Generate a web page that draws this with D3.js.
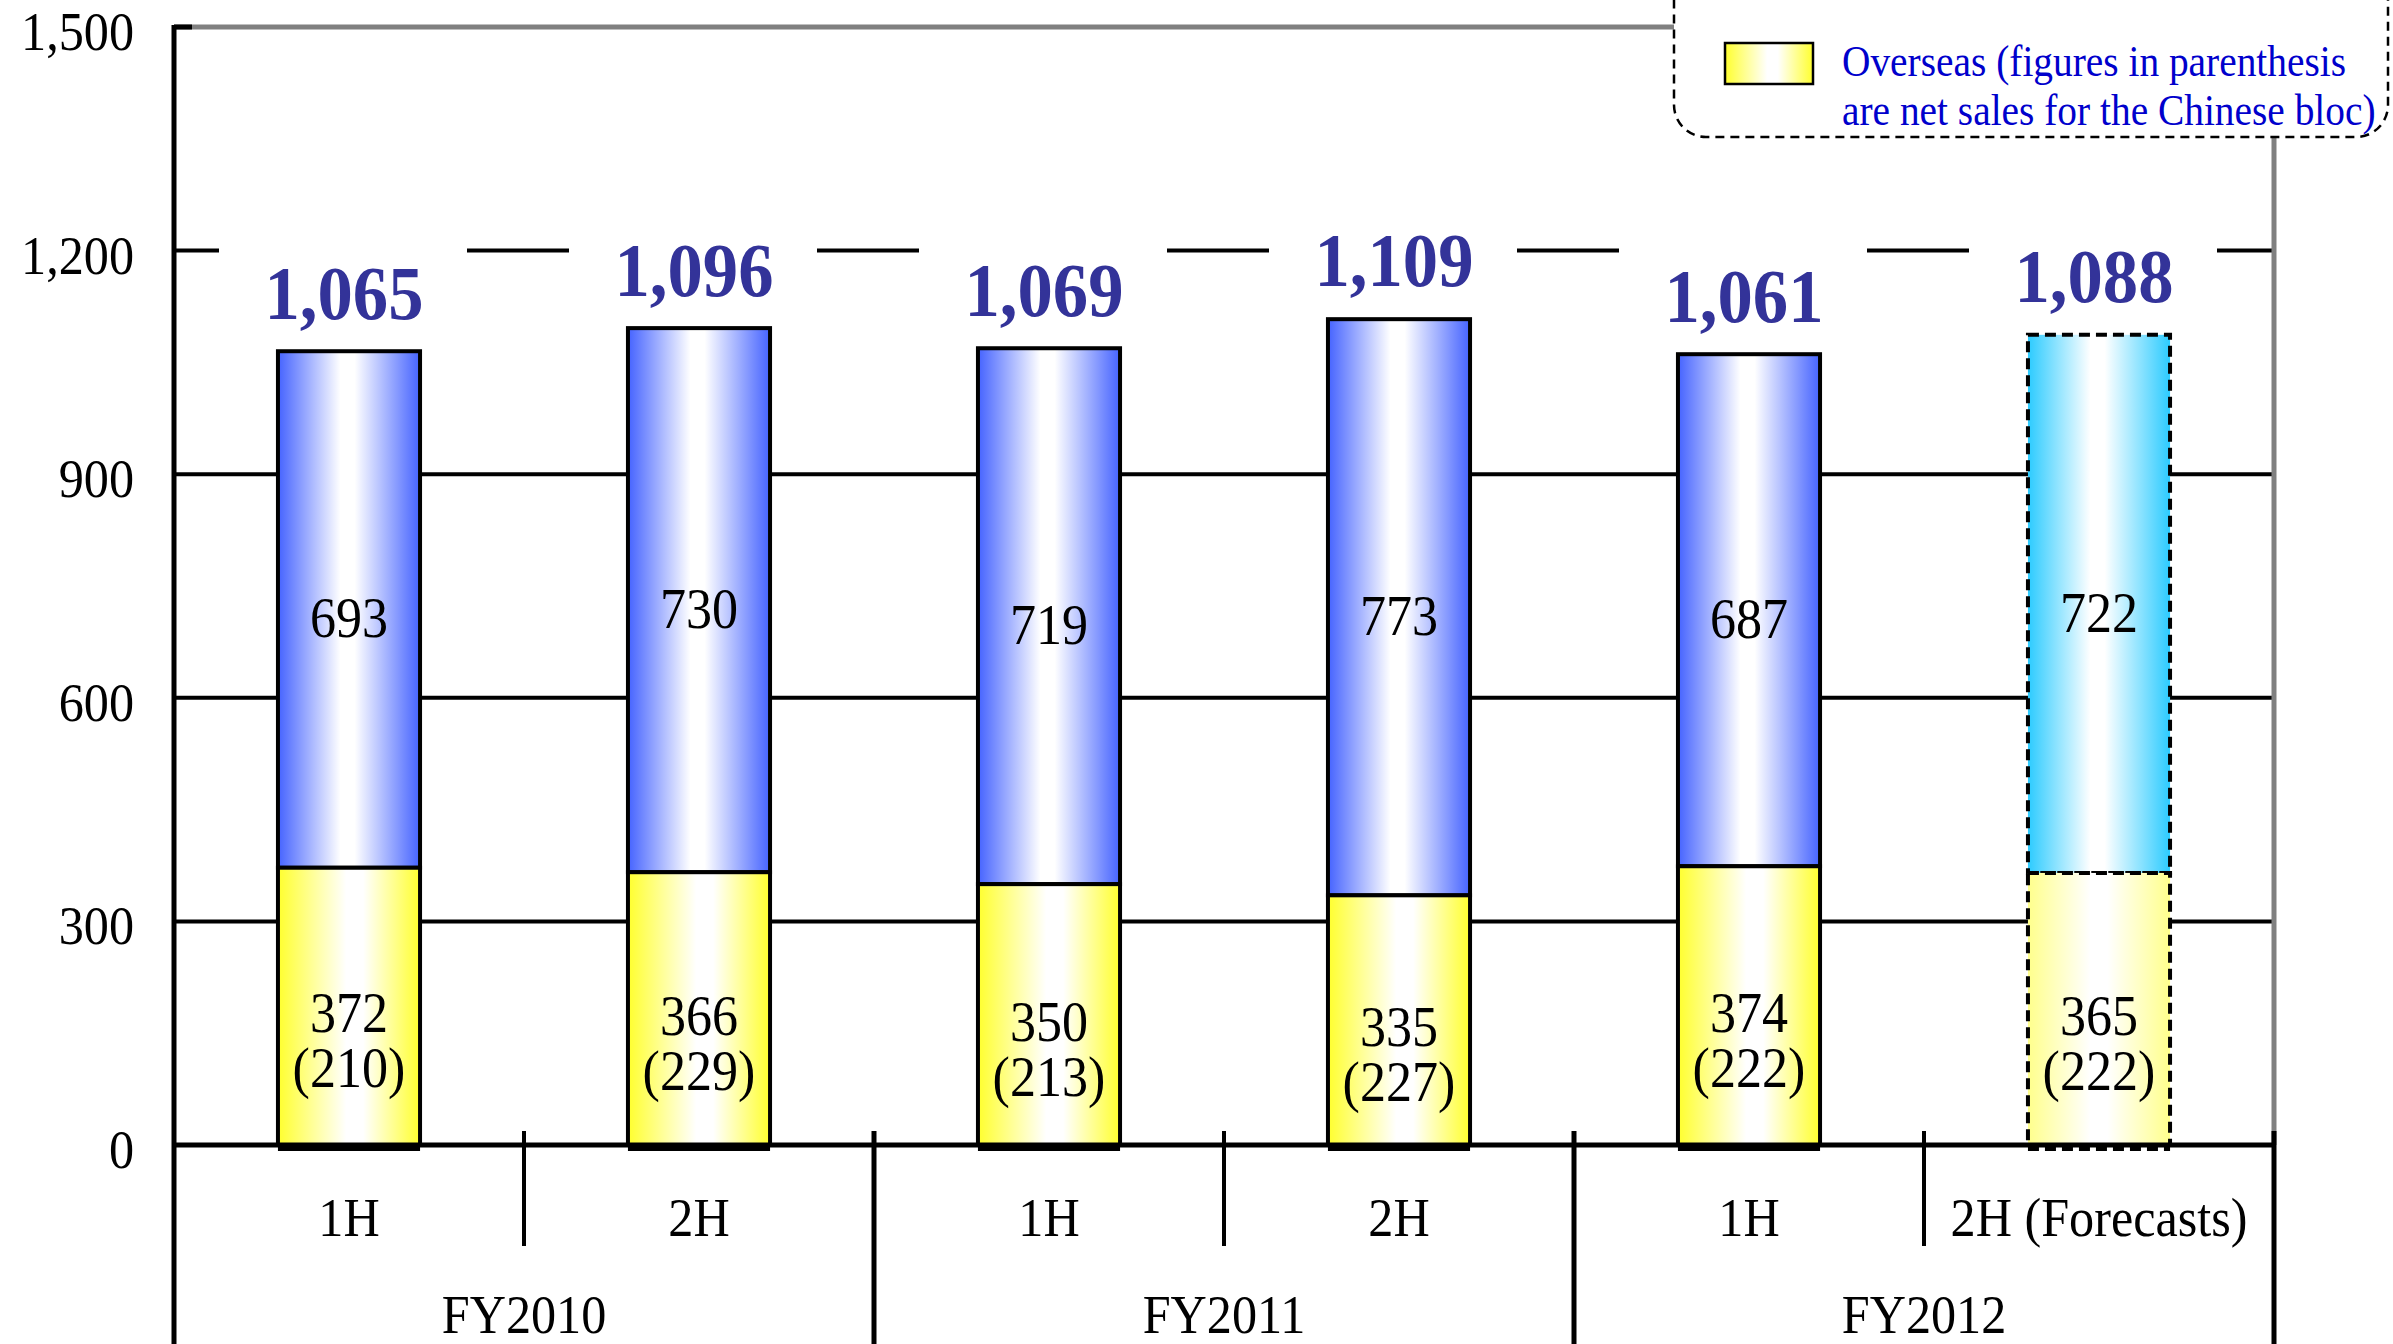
<!DOCTYPE html>
<html><head><meta charset="utf-8">
<script src="https://cdn.jsdelivr.net/npm/d3@7"></script>
<style>html,body{margin:0;padding:0;background:#fff;overflow:hidden}</style>
</head><body>
<svg id="c" width="2393" height="1344"></svg>
<script>
// ---- data ----
const halves = ["1H", "2H", "1H", "2H", "1H", "2H (Forecasts)"];
const years = ["FY2010", "FY2011", "FY2012"];
const overseas = [372, 366, 350, 335, 374, 365];
const china = [210, 229, 213, 227, 222, 222];
const domestic = [693, 730, 719, 773, 687, 722];
const totals = ["1,065", "1,096", "1,069", "1,109", "1,061", "1,088"];
const totalValues = [1065, 1096, 1069, 1109, 1061, 1088];
const forecast = [false, false, false, false, false, true];
const yTicks = [0, 300, 600, 900, 1200, 1500];
const legendLines = ["Overseas (figures in parenthesis", "are net sales for the Chinese bloc)"];

const svg = d3.select("#c");
const FONT = "'Liberation Serif','Times New Roman',serif";
const SX = 0.93;
const left = 174, right = 2274;

const y = d3.scaleLinear().domain([0, 1500]).range([1145, 27]);
const x = d3.scaleBand().domain(d3.range(halves.length)).range([left, right])
  .paddingInner(0.594).paddingOuter(0.297);
const slot = d3.scaleBand().domain(d3.range(halves.length)).range([left, right]);
const yearBand = d3.scaleBand().domain(years).range([left, right]);

// gradients
const defs = svg.append("defs");
function grad(id, edge, mid, a, b) {
  const g = defs.append("linearGradient").attr("id", id).attr("x1", 0).attr("x2", 1).attr("y1", 0).attr("y2", 0);
  g.append("stop").attr("offset", 0).attr("stop-color", edge);
  g.append("stop").attr("offset", a).attr("stop-color", mid);
  g.append("stop").attr("offset", b).attr("stop-color", mid);
  g.append("stop").attr("offset", 1).attr("stop-color", edge);
}
grad("gBlue", "#4563FF", "#FFFFFF", 0.44, 0.54);
grad("gYel", "#FFFF2E", "#FFFFFF", 0.48, 0.6);
grad("gCyan", "#2CCBFF", "#FFFFFF", 0.44, 0.54);
grad("gYelF", "#FFFF8C", "#FFFFFF", 0.44, 0.56);

function txt(g, tx, ty, s, opts) {
  const t = g.append("text")
    .attr("transform", `translate(${tx},${ty}) scale(${opts.sx || SX},1)`)
    .attr("font-family", FONT)
    .attr("font-size", opts.size)
    .attr("text-anchor", opts.anchor || "middle")
    .attr("fill", opts.fill || "#000");
  if (Array.isArray(s)) {
    s.forEach((line, k) => t.append("tspan").attr("x", 0).attr("dy", k === 0 ? 0 : opts.lh).text(line));
  } else {
    t.text(s);
  }
  if (opts.bold) t.attr("font-weight", "bold");
  return t;
}

// gridlines
svg.append("g").selectAll("line").data(yTicks.filter(v => v > 0 && v < 1500)).join("line")
  .attr("x1", left).attr("x2", right).attr("y1", d => y(d)).attr("y2", d => y(d))
  .attr("stroke", "#000").attr("stroke-width", 4);
// top border (gray)
svg.append("line").attr("x1", left).attr("x2", 1680).attr("y1", y(1500)).attr("y2", y(1500))
  .attr("stroke", "#808080").attr("stroke-width", 5);
svg.append("line").attr("x1", left).attr("x2", 192).attr("y1", y(1500)).attr("y2", y(1500))
  .attr("stroke", "#000").attr("stroke-width", 5);
// right border (gray)
svg.append("line").attr("x1", right).attr("x2", right).attr("y1", 130).attr("y2", y(0))
  .attr("stroke", "#808080").attr("stroke-width", 5);

// white boxes behind total labels
const gBox = svg.append("g");
gBox.selectAll("rect").data(totalValues).join("rect")
  .attr("x", (d, i) => x(i) + x.bandwidth() / 2 - 6 - 124)
  .attr("width", 248)
  .attr("y", d => y(d) - 32 - 88)
  .attr("height", 100)
  .attr("fill", "#fff");

// bars
const gB = svg.append("g");
halves.forEach((h, i) => {
  const x0 = x(i), w = x.bandwidth();
  const top = overseas[i] + domestic[i];
  const dash = forecast[i] ? "11,6" : null;
  gB.append("rect").attr("x", x0).attr("width", w)
    .attr("y", y(top)).attr("height", y(overseas[i]) - y(top))
    .attr("fill", forecast[i] ? "url(#gCyan)" : "url(#gBlue)")
    .attr("stroke", "#000").attr("stroke-width", 4).attr("stroke-dasharray", dash);
  gB.append("rect").attr("x", x0).attr("width", w)
    .attr("y", y(overseas[i])).attr("height", y(0) - y(overseas[i]))
    .attr("fill", forecast[i] ? "url(#gYelF)" : "url(#gYel)")
    .attr("stroke", "#000").attr("stroke-width", 4).attr("stroke-dasharray", dash);
});

// zero axis line and lower framework
svg.append("line").attr("x1", left).attr("x2", right + 2).attr("y1", y(0)).attr("y2", y(0))
  .attr("stroke", "#000").attr("stroke-width", 5);
halves.forEach((h, i) => {
  gB.append("line").attr("x1", x(i)).attr("x2", x(i) + x.bandwidth())
    .attr("y1", y(0) + 3).attr("y2", y(0) + 3)
    .attr("stroke", "#000").attr("stroke-width", 6)
    .attr("stroke-dasharray", forecast[i] ? "11,6" : null);
});
svg.append("line").attr("x1", left).attr("x2", left).attr("y1", y(1500) - 2).attr("y2", 1344)
  .attr("stroke", "#000").attr("stroke-width", 5);
// half dividers
[1, 3, 5].forEach(i => {
  svg.append("line").attr("x1", slot(i)).attr("x2", slot(i)).attr("y1", 1131).attr("y2", 1246)
    .attr("stroke", "#000").attr("stroke-width", 4);
});
// year dividers
years.forEach(yr => {
  const xe = yearBand(yr) + yearBand.bandwidth();
  svg.append("line").attr("x1", xe).attr("x2", xe).attr("y1", 1131).attr("y2", 1344)
    .attr("stroke", "#000").attr("stroke-width", 5);
});

// y tick labels
const gT = svg.append("g");
yTicks.forEach(v => txt(gT, 134, y(v) + 23, d3.format(",")(v), {size: 54, anchor: "end"}));

// value labels (drawn above bars)
const gL = svg.append("g");
halves.forEach((h, i) => {
  const cx = x(i) + x.bandwidth() / 2;
  const top = overseas[i] + domestic[i];
  const midB = (y(overseas[i]) + y(top)) / 2;
  txt(gL, cx, midB + 28, String(domestic[i]), {size: 56});
  const midY = (y(0) + y(overseas[i])) / 2;
  txt(gL, cx, midY + 26, [String(overseas[i]), "(" + china[i] + ")"], {size: 56, lh: 55});
  txt(gL, cx - 5, y(totalValues[i]) - 32, totals[i], {size: 76, bold: true, fill: "#333399"});
});

// category labels
halves.forEach((h, i) => txt(svg, slot(i) + slot.bandwidth() / 2, 1236, h, {size: 54}));
years.forEach(yr => txt(svg, yearBand(yr) + yearBand.bandwidth() / 2, 1333, yr, {size: 54}));

// legend
const gLeg = svg.append("g");
gLeg.append("rect").attr("x", 1674).attr("y", -60).attr("width", 714).attr("height", 197)
  .attr("rx", 32).attr("fill", "#fff").attr("stroke", "#000").attr("stroke-width", 2.5)
  .attr("stroke-dasharray", "9,6");
gLeg.append("rect").attr("x", 1725).attr("y", 43).attr("width", 88).attr("height", 41)
  .attr("fill", "url(#gYel)").attr("stroke", "#000").attr("stroke-width", 2.5);
txt(gLeg, 1842, 76, legendLines, {size: 44, sx: 0.895, anchor: "start", fill: "#0000CC", lh: 49});
</script>
</body></html>
